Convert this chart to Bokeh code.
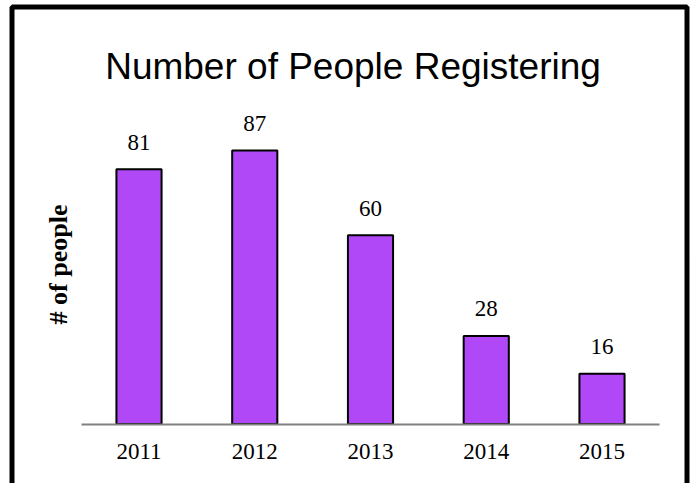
import math
from bokeh.plotting import figure
from bokeh.models import (ColumnDataSource, BoxAnnotation, FixedTicker, Range1d,
                          LinearAxis, Label)
from bokeh.core.properties import value
from bokeh.embed import file_html
from bokeh.resources import INLINE

# ---- data ----
years = ["2011", "2012", "2013", "2014", "2015"]
people = [81, 87, 60, 28, 16]
title_text = "Number of People Registering"
y_label = "# of people"

# ---- layout (pixels) ----
W, H = 692, 483
x_px0, x_step = 138.5, 115.75      # centre of first category, category spacing
base_px, px_per_unit = 423.5, 3.145  # baseline position and vertical scale

positions = list(range(len(years)))
labels = [str(v) for v in people]
source = ColumnDataSource(data=dict(x=positions, people=people, labels=labels))

p = figure(
    width=W, height=H,
    x_range=Range1d(-x_px0 / x_step, (W - x_px0) / x_step),
    y_range=Range1d(-(H - base_px) / px_per_unit, base_px / px_per_unit),
    x_axis_location=None, y_axis_location=None,
    output_backend="svg", toolbar_location=None,
    min_border=0, min_border_left=0, min_border_right=0,
    min_border_top=0, min_border_bottom=0,
)
p.background_fill_color = "white"
p.border_fill_color = "white"
p.outline_line_color = None
p.grid.visible = False

p.vbar(x="x", top="people", width=0.39, bottom=0, source=source,
       fill_color="#B048F8", line_color="black", line_width=2)

p.text(x="x", y="people", text="labels", source=source,
       text_align="center", text_baseline="alphabetic", y_offset=-27,
       text_font=value("Liberation Serif"), text_font_size="23px", text_color="black")

# x axis drawn across the plot at y = 0
xaxis = LinearAxis(fixed_location=0, bounds=(-0.5, len(years) - 0.5),
                   ticker=FixedTicker(ticks=positions),
                   major_label_overrides={i: y for i, y in zip(positions, years)})
xaxis.axis_line_color = "#808080"
xaxis.axis_line_width = 2
xaxis.major_tick_line_color = None
xaxis.minor_tick_line_color = None
xaxis.major_label_text_font = "Liberation Serif"
xaxis.major_label_text_font_size = "23px"
xaxis.major_label_text_color = "black"
xaxis.major_label_standoff = 14
p.add_layout(xaxis, "below")

# title
p.add_layout(Label(x=352.5, y=H - 66, x_units="screen", y_units="screen",
                   text=title_text, text_align="center", text_baseline="alphabetic",
                   text_font="Liberation Sans", text_font_size="37px",
                   text_font_style="normal", text_color="black"))

# y axis label
p.add_layout(Label(x=58, y=H - 264, x_units="screen", y_units="screen",
                   text=y_label, angle=math.pi / 2, text_align="center",
                   text_baseline="middle", text_font="Liberation Serif",
                   text_font_size="26px", text_font_style="bold", text_color="black"))

# black frame around the chart (bottom edge lies below the visible page)
frame_box = BoxAnnotation(left=11.5, right=686.5, top=6.5, bottom=H + 40,
                          left_units="canvas", right_units="canvas",
                          top_units="canvas", bottom_units="canvas",
                          fill_color=None, fill_alpha=0, line_color="black",
                          line_width=5, line_alpha=1)
p.add_layout(frame_box)

open("out.html", "w").write(file_html(p, INLINE))
